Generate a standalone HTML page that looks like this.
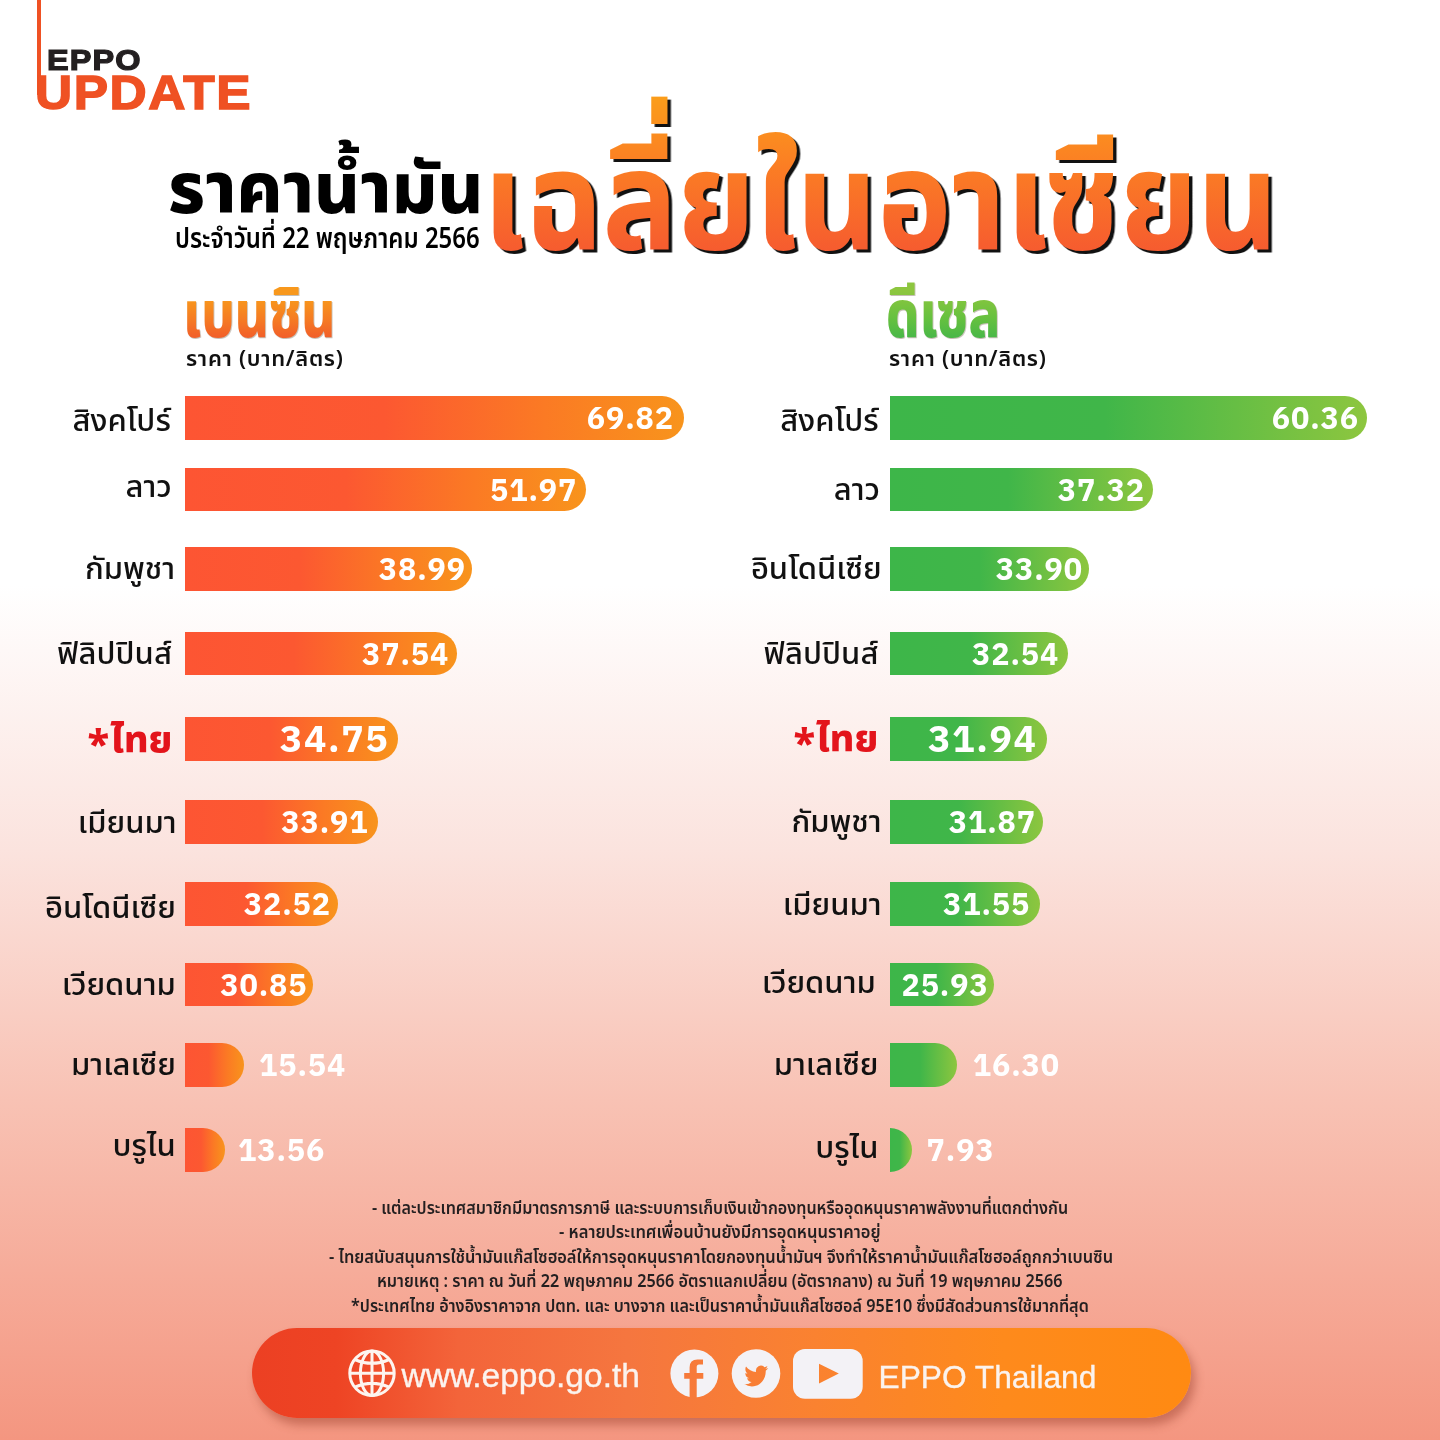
<!DOCTYPE html>
<html><head><meta charset="utf-8"><style>
*{margin:0;padding:0;box-sizing:border-box}
html,body{width:1440px;height:1440px;overflow:hidden}
body{position:relative;background:linear-gradient(180deg,#fff 0px,#fff 585px,#fbe3de 850px,#f8c2b4 1100px,#f49680 1440px);font-family:"Noto Sans Thai","Liberation Sans","Noto Sans CJK SC",sans-serif;color:#111}
#logoline{position:absolute;left:37px;top:0;width:4px;height:95px;background:#ef5123}
#eppo{position:absolute;left:47px;top:46px;font:700 29px/1 "Liberation Sans",sans-serif;color:#231f20;letter-spacing:1px;-webkit-text-stroke:1.2px #231f20;transform-origin:0 0;transform:scaleX(1.12)}
#update{position:absolute;left:35px;top:68px;font:700 49px/1 "Liberation Sans",sans-serif;color:#ef5123;letter-spacing:1.5px;-webkit-text-stroke:1.5px #ef5123;transform-origin:0 0;transform:scaleX(1.05)}
#t1{position:absolute;left:168px;top:157px;font-weight:800;font-size:70.4px;line-height:1;white-space:nowrap;color:#000}
#t2{position:absolute;left:175px;top:226.4px;font-weight:600;font-size:28.4px;line-height:1;white-space:nowrap;color:#000;transform-origin:0 0;transform:scaleX(.8416)}
#big{position:absolute;left:482.9px;top:80px;padding-top:40px;font-family:"Noto Sans Thai UI","Noto Sans Thai","Liberation Sans",sans-serif;font-weight:700;font-size:146px;line-height:1;white-space:nowrap;transform-origin:0 0;transform:scaleX(.856);background:linear-gradient(180deg,#fb9d1a 9%,#fb8c20 30%,#fb7d24 47%,#f65c2f 91%);-webkit-background-clip:text;background-clip:text;color:transparent;filter:drop-shadow(4.5px 3px 0 #111)}
.hdr{padding-top:20px;position:absolute;font-family:"Noto Sans Thai UI","Noto Sans Thai","Liberation Sans",sans-serif;font-weight:800;font-size:69px;line-height:1;white-space:nowrap;transform-origin:0 0;transform:scaleX(.765);-webkit-background-clip:text;background-clip:text;color:transparent;filter:drop-shadow(1px 1px 0 rgba(90,70,40,.35))}
.sub{position:absolute;font-weight:600;font-size:22px;line-height:1;white-space:nowrap;color:#111;letter-spacing:.7px}
.lab{position:absolute;height:43.5px;line-height:43.5px;font-size:31px;font-weight:500;white-space:nowrap;text-align:right;color:#111}
.lab.th{color:#e3141b;font-weight:800;font-size:38px}
.bar{position:absolute;height:43.5px;border-radius:0 22px 22px 0}
.bar.o{background:linear-gradient(90deg,#fd5533 0%,#fc5831 40%,#fb7a24 72%,#f8941c 100%)}
.bar.g{background:linear-gradient(90deg,#3db649 0%,#40b649 45%,#8dc63f 100%)}
.val{position:absolute;height:43.5px;line-height:43.5px;font-family:"IBM Plex Sans","IBM Plex Sans Thai","Liberation Sans",sans-serif;font-weight:700;font-size:30.5px;color:#fff;white-space:nowrap;letter-spacing:.9px}
.val.vbig{font-size:37.5px;letter-spacing:1.6px}
.val.out{color:#fff}
#notes{position:absolute;left:0;top:0;width:1440px;height:1440px;font-size:17.5px;line-height:24.5px;font-weight:600;color:#231f20}
#notes div{position:absolute;white-space:nowrap;transform-origin:0 0}
#pill{position:absolute;left:252px;top:1328px;width:939px;height:90px;border-radius:45px;background:linear-gradient(90deg,#ec4023 0%,#ee4424 9%,#f3643a 22%,#f5763f 40%,#fa8230 60%,#fe8a1c 80%,#ff8a12 100%);box-shadow:4px 7px 10px rgba(150,60,40,.45)}
.ptxt{position:absolute;font-family:"Liberation Sans",sans-serif;font-size:33px;color:#fbf3ee;-webkit-text-stroke:.35px #fbf3ee;white-space:nowrap;line-height:1}
.ast{position:relative;top:6px;font-size:40px;margin-right:1px}

</style></head><body>
<div id="logoline"></div>
<div id="eppo">EPPO</div>
<div id="update">UPDATE</div>
<div id="t1">ราคาน้ำมัน</div>
<div id="t2">ประจำวันที่ 22 พฤษภาคม 2566</div>
<div id="big">เฉลี่ยในอาเซียน</div>
<div id="h1" class="hdr" style="left:183px;top:256.4px;background-image:linear-gradient(180deg,#f8981c 48%,#f57a24 72%,#f15a2a 95%)">เบนซิน</div>
<div id="s1" class="sub" style="left:186px;top:348.6px">ราคา (บาท/ลิตร)</div>
<div id="h2" class="hdr" style="left:886px;top:256.4px;background-image:linear-gradient(180deg,#8dc63f 40%,#66c13f 70%,#45b649 95%)">ดีเซล</div>
<div id="s2" class="sub" style="left:889px;top:348.6px">ราคา (บาท/ลิตร)</div>
<div id="Llab0" class="lab" style="top:400.0px;right:1269.2px">สิงคโปร์</div><div id="Lbar0" class="bar o" style="left:185.3px;top:396.0px;width:498.7px"></div><div id="Lval0" class="val" style="right:766.0px;top:396.0px">69.82</div>
<div id="Llab1" class="lab" style="top:466.4px;right:1268.2px">ลาว</div><div id="Lbar1" class="bar o" style="left:185.3px;top:467.5px;width:400.3px"></div><div id="Lval1" class="val" style="right:862.8px;top:467.5px">51.97</div>
<div id="Llab2" class="lab" style="top:547.7px;right:1264.8px">กัมพูชา</div><div id="Lbar2" class="bar o" style="left:185.3px;top:547.0px;width:286.5px"></div><div id="Lval2" class="val" style="right:974.1px;top:547.0px">38.99</div>
<div id="Llab3" class="lab" style="top:633.3px;right:1268.1px">ฟิลิปปินส์</div><div id="Lbar3" class="bar o" style="left:185.3px;top:631.5px;width:271.7px"></div><div id="Lval3" class="val" style="right:990.8px;top:631.5px">37.54</div>
<div id="Llab4" class="lab th" style="top:719.3px;right:1267.5px"><span class="ast">*</span>ไทย</div><div id="Lbar4" class="bar o" style="left:185.3px;top:717.0px;width:212.5px"></div><div id="Lval4" class="val vbig" style="right:1050.6px;top:717.0px">34.75</div>
<div id="Llab5" class="lab" style="top:801.8px;right:1263.3px">เมียนมา</div><div id="Lbar5" class="bar o" style="left:185.3px;top:800.0px;width:192.5px"></div><div id="Lval5" class="val" style="right:1071.5px;top:800.0px">33.91</div>
<div id="Llab6" class="lab" style="top:886.8px;right:1264.2px">อินโดนีเซีย</div><div id="Lbar6" class="bar o" style="left:185.3px;top:882.0px;width:153.2px"></div><div id="Lval6" class="val" style="right:1109.0px;top:882.0px">32.52</div>
<div id="Llab7" class="lab" style="top:963.5px;right:1264.2px">เวียดนาม</div><div id="Lbar7" class="bar o" style="left:185.3px;top:962.5px;width:127.5px"></div><div id="Lval7" class="val" style="right:1132.6px;top:962.5px">30.85</div>
<div id="Llab8" class="lab" style="top:1043.5px;right:1264.2px">มาเลเซีย</div><div id="Lbar8" class="bar o" style="left:185.3px;top:1043.0px;width:59.2px"></div><div id="Lval8" class="val out" style="left:259.0px;top:1043.0px">15.54</div>
<div id="Llab9" class="lab" style="top:1125.2px;right:1264.2px">บรูไน</div><div id="Lbar9" class="bar o" style="left:185.3px;top:1128.0px;width:39.4px"></div><div id="Lval9" class="val out" style="left:238.0px;top:1128.0px">13.56</div>
<div id="Rlab0" class="lab" style="top:399.8px;right:561.3px">สิงคโปร์</div><div id="Rbar0" class="bar g" style="left:890.3px;top:396.0px;width:476.7px"></div><div id="Rval0" class="val" style="right:81.0px;top:396.0px">60.36</div>
<div id="Rlab1" class="lab" style="top:468.9px;right:560.0px">ลาว</div><div id="Rbar1" class="bar g" style="left:890.3px;top:467.5px;width:262.7px"></div><div id="Rval1" class="val" style="right:295.0px;top:467.5px">37.32</div>
<div id="Rlab2" class="lab" style="top:548.0px;right:558.3px">อินโดนีเซีย</div><div id="Rbar2" class="bar g" style="left:890.3px;top:547.0px;width:198.5px"></div><div id="Rval2" class="val" style="right:357.0px;top:547.0px">33.90</div>
<div id="Rlab3" class="lab" style="top:633.1px;right:561.6px">ฟิลิปปินส์</div><div id="Rbar3" class="bar g" style="left:890.3px;top:631.5px;width:178.0px"></div><div id="Rval3" class="val" style="right:380.8px;top:631.5px">32.54</div>
<div id="Rlab4" class="lab th" style="top:718.0px;right:561.7px"><span class="ast">*</span>ไทย</div><div id="Rbar4" class="bar g" style="left:890.3px;top:717.0px;width:157.2px"></div><div id="Rval4" class="val vbig" style="right:402.4px;top:717.0px">31.94</div>
<div id="Rlab5" class="lab" style="top:800.8px;right:558.3px">กัมพูชา</div><div id="Rbar5" class="bar g" style="left:890.3px;top:800.0px;width:152.4px"></div><div id="Rval5" class="val" style="right:404.0px;top:800.0px">31.87</div>
<div id="Rlab6" class="lab" style="top:884.1px;right:558.3px">เมียนมา</div><div id="Rbar6" class="bar g" style="left:890.3px;top:882.0px;width:149.7px"></div><div id="Rval6" class="val" style="right:409.8px;top:882.0px">31.55</div>
<div id="Rlab7" class="lab" style="top:962.2px;right:564.2px">เวียดนาม</div><div id="Rbar7" class="bar g" style="left:890.3px;top:962.5px;width:103.7px"></div><div id="Rval7" class="val" style="right:451.4px;top:962.5px">25.93</div>
<div id="Rlab8" class="lab" style="top:1044.3px;right:561.5px">มาเลเซีย</div><div id="Rbar8" class="bar g" style="left:890.3px;top:1043.0px;width:66.5px"></div><div id="Rval8" class="val out" style="left:972.8px;top:1043.0px">16.30</div>
<div id="Rlab9" class="lab" style="top:1127.1px;right:561.5px">บรูไน</div><div id="Rbar9" class="bar g" style="left:890.3px;top:1128.0px;width:21.8px"></div><div id="Rval9" class="val out" style="left:926.6px;top:1128.0px">7.93</div>
<div id="notes"><div id="n1" style="left:371.9px;top:1196.5px;transform:scaleX(0.9197)">- แต่ละประเทศสมาชิกมีมาตรการภาษี และระบบการเก็บเงินเข้ากองทุนหรืออุดหนุนราคาพลังงานที่แตกต่างกัน</div><div id="n2" style="left:559.4px;top:1221px;transform:scaleX(0.9450)">- หลายประเทศเพื่อนบ้านยังมีการอุดหนุนราคาอยู่</div><div id="n3" style="left:328.8px;top:1245.5px;transform:scaleX(0.9376)">- ไทยสนับสนุนการใช้น้ำมันแก๊สโซฮอล์ให้การอุดหนุนราคาโดยกองทุนน้ำมันฯ จึงทำให้ราคาน้ำมันแก๊สโซฮอล์ถูกกว่าเบนซิน</div><div id="n4" style="left:377.4px;top:1270px;transform:scaleX(0.9242)">หมายเหตุ : ราคา ณ วันที่ 22 พฤษภาคม 2566 อัตราแลกเปลี่ยน (อัตรากลาง) ณ วันที่ 19 พฤษภาคม 2566</div><div id="n5" style="left:351.1px;top:1294.5px;transform:scaleX(0.9235)">*ประเทศไทย อ้างอิงราคาจาก ปตท. และ บางจาก และเป็นราคาน้ำมันแก๊สโซฮอล์ 95E10 ซึ่งมีสัดส่วนการใช้มากที่สุด</div></div>
<div id="pill"></div>
<svg id="icons" style="position:absolute;left:0;top:0" width="1440" height="1440" viewBox="0 0 1440 1440">
<defs>
<mask id="mfb"><circle cx="694.4" cy="1373.5" r="24" fill="#fff"/><path d="M689.6 1398V1367.5Q689.6 1359.6 697.5 1359.6H703V1364.4H699Q696.7 1364.4 696.7 1367V1398Z M684.2 1372.9H703.3V1378.8H684.2Z" fill="#000"/></mask>
<mask id="mtw"><circle cx="756" cy="1373.5" r="24.3" fill="#fff"/><g transform="translate(744.4 1363.2) scale(0.99 1.07)"><path d="M23.953 4.57a10 10 0 01-2.825.775 4.958 4.958 0 002.163-2.723c-.951.555-2.005.959-3.127 1.184a4.92 4.92 0 00-8.384 4.482C7.69 8.095 4.067 6.13 1.64 3.162a4.822 4.822 0 00-.666 2.475c0 1.71.87 3.213 2.188 4.096a4.904 4.904 0 01-2.228-.616v.06a4.923 4.923 0 003.946 4.827 4.996 4.996 0 01-2.212.085 4.936 4.936 0 004.604 3.417 9.867 9.867 0 01-6.102 2.105c-.39 0-.779-.023-1.17-.067a13.995 13.995 0 007.557 2.209c9.053 0 13.998-7.496 13.998-13.985 0-.21 0-.42-.015-.63A9.935 9.935 0 0024 4.59z" fill="#000"/></g></mask>
<mask id="myt"><rect x="793" y="1349" width="69.7" height="49.7" rx="12" fill="#fff"/><path d="M819 1363.8L838.8 1373.6L819 1383.5Z" fill="#000"/></mask>
</defs>
<g fill="none" stroke="#fdf5f0" stroke-width="3">
<circle cx="372" cy="1373.3" r="22.2"/>
<ellipse cx="372" cy="1373.3" rx="11.6" ry="22.2"/>
<path d="M372 1351.1V1395.5M349.8 1373.3H394.2M354.8 1359.5Q372 1367 389.2 1359.5M354.8 1387.1Q372 1379.6 389.2 1387.1"/>
</g>
<rect x="660" y="1340" width="60" height="66" fill="#f3f2f6" mask="url(#mfb)"/>
<rect x="728" y="1340" width="60" height="66" fill="#f3f2f6" mask="url(#mtw)"/>
<rect x="790" y="1340" width="76" height="66" fill="#f3f2f6" mask="url(#myt)"/>
</svg>
<div id="web" class="ptxt" style="left:401.5px;top:1358.5px;font-size:33.5px">www.eppo.go.th</div>
<div id="eppoth" class="ptxt" style="left:878.5px;top:1361.5px;font-size:31.7px">EPPO Thailand</div>

</body></html>
